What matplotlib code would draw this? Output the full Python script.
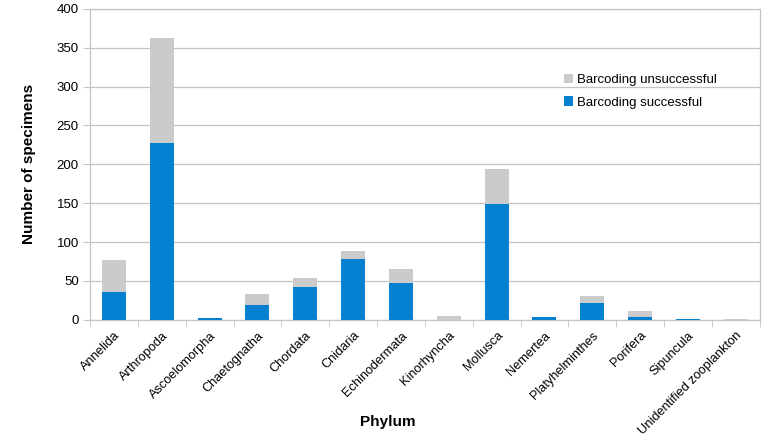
import numpy as np
import matplotlib.pyplot as plt

plt.rcParams['font.family'] = ['Liberation Sans', 'DejaVu Sans']

phyla = ['Annelida', 'Arthropoda', 'Ascoelomorpha', 'Chaetognatha', 'Chordata',
         'Cnidaria', 'Echinodermata', 'Kinorhyncha', 'Mollusca', 'Nemertea',
         'Platyhelminthes', 'Porifera', 'Sipuncula', 'Unidentified zooplankton']
successful = [36, 228, 2, 19, 42, 78, 48, 0, 149, 4, 22, 4, 1, 0]
unsuccessful = [41, 135, 0, 14, 12, 10, 18, 5, 45, 0, 9, 8, 0, 1]

blue = '#0480d0'
grey = '#cbcbcb'

fig = plt.figure(figsize=(7.76, 4.40), dpi=100)
ax = fig.add_axes([0.116, 0.273, 0.863, 0.707])

x = np.arange(len(phyla))
ax.bar(x, successful, width=0.5, color=blue, label='Barcoding successful', zorder=3)
ax.bar(x, unsuccessful, width=0.5, bottom=successful, color=grey,
       label='Barcoding unsuccessful', zorder=3)

ax.set_xlim(-0.5, len(phyla) - 0.5)
ax.set_ylim(0, 400)
ax.set_yticks(range(0, 401, 50))
ax.yaxis.grid(True, color='#c4c4c4', linewidth=0.9, zorder=0)
ax.set_axisbelow(True)
for s in ax.spines.values():
    s.set_color('#c4c4c4')
    s.set_linewidth(0.9)

ax.set_xticks(x)
ax.set_xticklabels(phyla, rotation=45, ha='right', va='top',
                   rotation_mode='anchor', fontsize=9.2)
ax.tick_params(axis='x', length=0, pad=7)
ax.set_xticks(np.arange(-0.5, len(phyla), 1), minor=True)
ax.tick_params(axis='x', which='minor', length=5, color='#c4c4c4')
ax.tick_params(axis='y', length=5, color='#c4c4c4', labelsize=9.5, pad=3)

ax.set_ylabel('Number of specimens', fontsize=11, fontweight='bold')
ax.yaxis.set_label_coords(-0.081, 0.5)
fig.text(0.5, 0.041, 'Phylum', ha='center', va='center', fontsize=11, fontweight='bold')

h, l = ax.get_legend_handles_labels()
ax.legend(h[::-1], l[::-1], loc='upper left', bbox_to_anchor=(0.69, 0.83),
          frameon=False, fontsize=9.5, handlelength=0.7, handleheight=0.7,
          handletextpad=0.3, labelspacing=0.8)

fig.savefig('out.png', dpi=100)
